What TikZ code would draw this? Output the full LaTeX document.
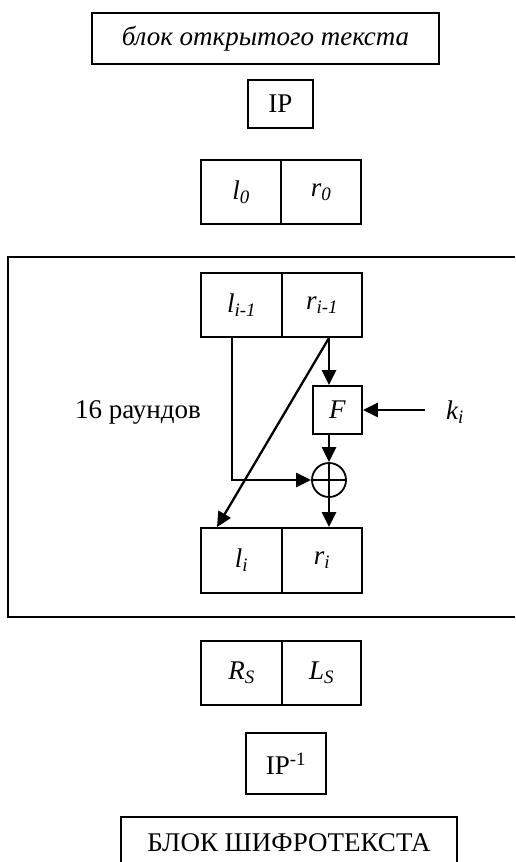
\documentclass[tikz,border=0pt]{standalone}
\usepackage{fontspec}
\setmainfont{Liberation Serif}
\usetikzlibrary{arrows.meta}
\begin{document}
\begin{tikzpicture}[x=1pt,y=-1pt,
  font=\fontsize{27}{31}\selectfont,
  box/.style={draw, line width=1.8pt, rectangle, inner sep=0pt},
  arr/.style={line width=2.3pt, -{Triangle[length=15pt,width=14pt]}},
  ln/.style={line width=1.8pt}]
\useasboundingbox (0,0) rectangle (515,862);
% top
\node[box, minimum width=347pt, minimum height=51pt] (plain) at (265.5,38.5) {\textit{блок открытого текста}};
\node[box, minimum width=65pt, minimum height=48pt] (ip) at (280.5,104) {IP};
\node[box, minimum width=80pt, minimum height=64pt] (l0) at (241,192) {\textit{l\textsubscript{0}}};
\node[box, minimum width=80pt, minimum height=64pt] (r0) at (321,192) {\textit{r\textsubscript{0}}};
% round frame (open on the right)
\draw[ln] (515,257) -- (8,257) -- (8,617) -- (515,617);
\node[box, minimum width=81pt, minimum height=64pt] (li1) at (241.5,305) {\textit{l\textsubscript{i-1}}};
\node[box, minimum width=80pt, minimum height=64pt] (ri1) at (322,305) {\textit{r\textsubscript{i-1}}};
\node[box, minimum width=49pt, minimum height=48pt] (F) at (337.5,410) {\textit{F}};
\node[inner sep=0pt] (k) at (455,412) {\textit{k\textsubscript{i}}};
\coordinate (kstart) at (425,410);
\node[inner sep=0pt] (rounds) at (138,412) {16 раундов};
\node[draw, circle, line width=1.8pt, minimum size=34pt, inner sep=0pt] (xor) at (329,480) {};
\draw[ln] (xor.north) -- (xor.south) (xor.west) -- (xor.east);
\node[box, minimum width=81pt, minimum height=65pt] (li) at (241.5,560.5) {\textit{l\textsubscript{i}}};
\node[box, minimum width=80pt, minimum height=65pt] (ri) at (322,560.5) {\textit{r\textsubscript{i}}};
% connectors
\draw[arr] (ri1.south -| xor) -- (F.north -| xor);
\draw[arr] (ri1.south -| xor) -- ([xshift=-24.5pt]li.north);
\draw[arr] ([xshift=-9.5pt]li1.south) |- (xor.west);
\draw[arr] (F.south -| xor) -- (xor.north);
\draw[arr] (xor.south) -- (ri.north -| xor);
\draw[arr] (kstart) -- (F.east);
% bottom
\node[box, minimum width=81pt, minimum height=64pt] (RS) at (241.5,673) {\textit{R\textsubscript{S}}};
\node[box, minimum width=79pt, minimum height=64pt] (LS) at (321.5,673) {\textit{L\textsubscript{S}}};
\node[box, minimum width=80pt, minimum height=61pt] (ipinv) at (286,763.5) {IP\textsuperscript{-1}};
\draw[ln] (121,862) -- (121,817) -- (457,817) -- (457,862);
\node[inner sep=0pt] (cipher) at (289,843) {БЛОК ШИФРОТЕКСТА};
\end{tikzpicture}
\end{document}
